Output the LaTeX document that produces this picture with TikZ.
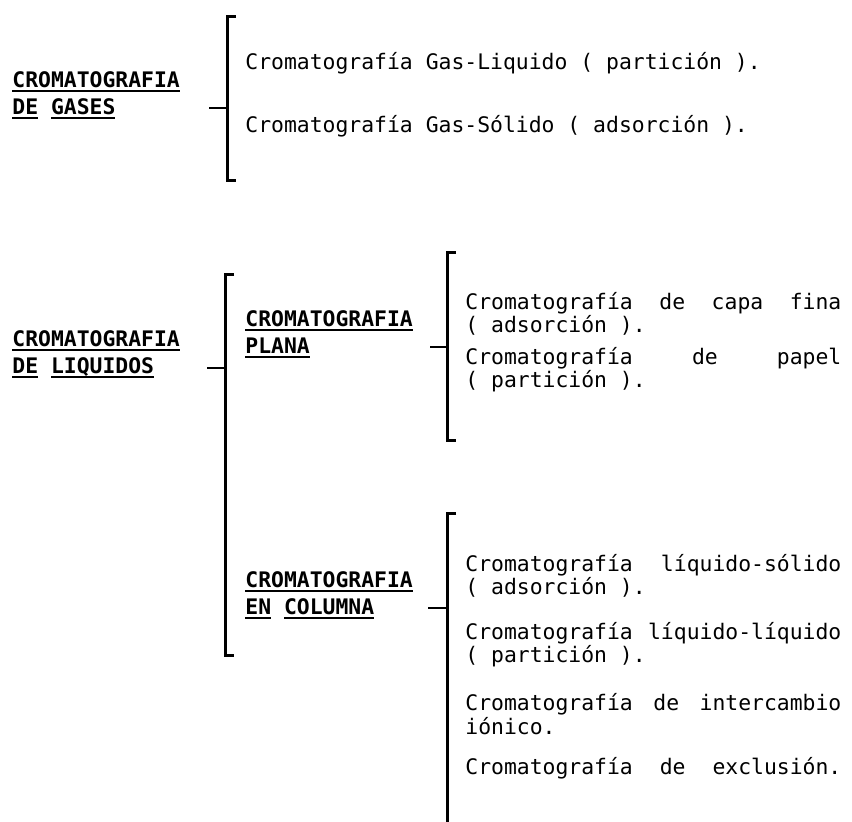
\documentclass[tikz,border=0pt]{standalone}
\usepackage{fontspec}
\setmonofont{DejaVu Sans Mono}
\usepackage{tikz}
\usetikzlibrary{positioning}
\newcommand{\ulw}[1]{\setbox0\hbox{#1}\rlap{\rule[-2.3pt]{\wd0}{0.9pt}}\box0\relax}
\newcommand{\jline}[1]{\hbox to 188pt{#1}}
\newcommand{\entryfont}{\ttfamily\fontsize{10.7}{11.6}\selectfont\lineskiplimit=-6pt\relax}

\begin{document}
\begin{tikzpicture}[
  x=0.5pt,y=-0.5pt,
  font=\entryfont,
  header/.style={anchor=west,align=left,inner sep=0pt,
    font=\ttfamily\bfseries\fontsize{10.7}{13.5}\selectfont},
  entry/.style={anchor=west,align=left,inner sep=0pt},
  brace/.style={line width=1.5pt},
  stub/.style={line width=1pt}
]
\useasboundingbox (0,0) rectangle (852,821);
\node[header] (gases) at (12,95) {\ulw{CROMATOGRAFIA}\\\ulw{DE} \ulw{GASES}};
\node[entry] (gasliq) at (245,63) {Cromatografía Gas-Liquido ( partición ).};
\node[entry] (gassol) at (245,126) {Cromatografía Gas-Sólido ( adsorción ).};
\coordinate (gtop) at (227,16);
\coordinate (gbot) at (227,180);
\coordinate (gmid) at (227,108);
\coordinate (gfoot) at (209,108);
\draw[brace] (gtop) ++(9,0) -- (gtop) -- (gbot) -- ++(9,0);
\draw[stub] (gfoot) -- (gmid);
\node[header] (liquidos) at (12,354) {\ulw{CROMATOGRAFIA}\\\ulw{DE} \ulw{LIQUIDOS}};
\coordinate (ltop) at (225,274);
\coordinate (lbot) at (225,655);
\coordinate (lmid) at (225,368);
\coordinate (lfoot) at (207,368);
\draw[brace] (ltop) ++(9,0) -- (ltop) -- (lbot) -- ++(9,0);
\draw[stub] (lfoot) -- (lmid);
\node[header] (plana) at (245,334) {\ulw{CROMATOGRAFIA}\\\ulw{PLANA}};
\coordinate (ptop) at (447,252);
\coordinate (pbot) at (447,440);
\coordinate (pmid) at (447,347);
\coordinate (pfoot) at (430,347);
\draw[brace] (ptop) ++(9,0) -- (ptop) -- (pbot) -- ++(9,0);
\draw[stub] (pfoot) -- (pmid);
\node[entry] (capa) at (465,314) {\jline{Cromatografía\hfill de\hfill capa\hfill fina}\\( adsorción ).};
\node[entry] (papel) at (465,370) {\jline{Cromatografía\hfill de\hfill papel}\\( partición ).};
\node[header] (columna) at (245,595) {\ulw{CROMATOGRAFIA}\\\ulw{EN} \ulw{COLUMNA}};
\coordinate (ctop) at (447,513);
\coordinate (cbot) at (447,824);
\coordinate (cmid) at (447,608);
\coordinate (cfoot) at (428,608);
\draw[brace] (ctop) ++(9,0) -- (ctop) -- (cbot);
\draw[stub] (cfoot) -- (cmid);
\node[entry] (liqsol) at (465,576) {\jline{Cromatografía\hfill líquido-sólido}\\( adsorción ).};
\node[entry] (liqliq) at (465,645) {\jline{Cromatografía\hfill líquido-líquido}\\( partición ).};
\node[entry] (ionico) at (465,714) {\jline{Cromatografía\hfill de\hfill intercambio}\\iónico.};
\node[entry] (exclusion) at (465,768) {\jline{Cromatografía\hfill de\hfill exclusión.}};
\end{tikzpicture}
\end{document}
